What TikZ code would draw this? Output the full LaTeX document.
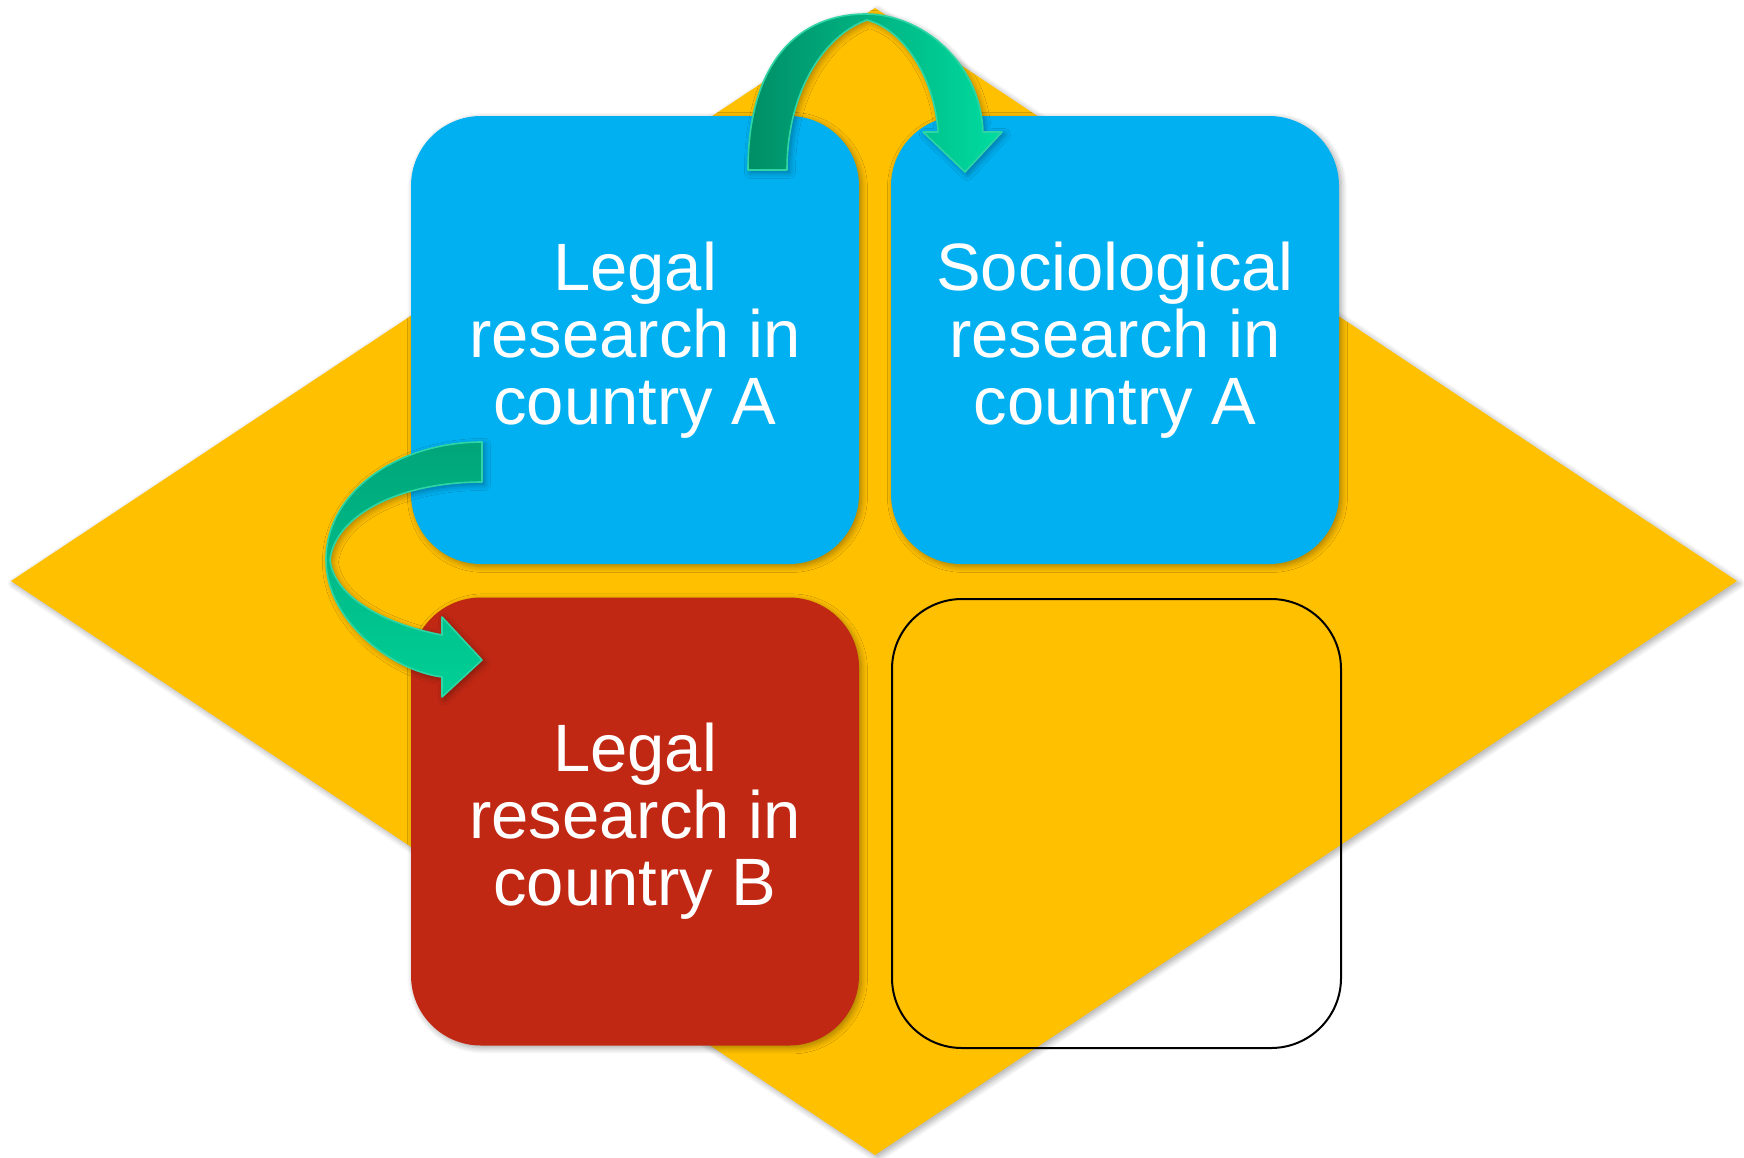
\documentclass[tikz,border=0pt]{standalone}
\usepackage{fontspec}
\setmainfont{Liberation Sans}
\usetikzlibrary{shadows.blur}
\definecolor{gold}{HTML}{FFC000}
\definecolor{sky}{HTML}{00B0F0}
\definecolor{brick}{HTML}{C02814}
\definecolor{teal1}{HTML}{008E66}
\definecolor{teal2}{HTML}{00DCA0}
\definecolor{teal3}{HTML}{00A579}
\definecolor{teal4}{HTML}{00D096}
\definecolor{tealedge}{HTML}{2ED6A6}
\tikzstyle{sq}=[shape=rectangle, rounded corners=35pt, minimum width=224pt, minimum height=224pt, inner sep=0pt, text=white, align=center, font=\fontsize{33.5}{33.5}\selectfont]
\tikzstyle{lift}=[blur shadow={shadow xshift=1.2pt, shadow yshift=-1.2pt, shadow blur radius=3pt, shadow blur steps=8, shadow opacity=35}]
\tikzstyle{arr}=[draw=tealedge, line width=0.8pt, line join=round, lift]

\begin{document}
\begin{tikzpicture}[x=0.5pt, y=-0.5pt]
        \useasboundingbox (0,0) rectangle (1744,1157);
        \fill[gold, lift] (11,581) -- (875,8) -- (1737,581) -- (875,1155) -- cycle;

        \node[sq, lift, fill=sky] (LA) at (635, 340) {Legal\\research in\\country A};
        \node[sq, lift, fill=sky] (SA) at (1115, 340) {Sociological\\research in\\country A};
        \node[sq, lift, fill=brick] (LB) at (635, 821.5) {Legal\\research in\\country B};
        \node[sq, draw=black, line width=1pt, minimum width=224.5pt, minimum height=224.5pt] (E) at (1116.5, 823.5) {};

        % arc over the top, LA -> SA
        \path[arr, left color=teal1, right color=teal2]
            (748,170) .. controls (748,60) and (800,14) .. (866,14)
            .. controls (920,14) and (980,60) .. (983,132)
            -- (1002,132) -- (965,172) -- (923,132) -- (938,132)
            .. controls (935,80) and (905,30) .. (867,20)
            .. controls (825,35) and (787,90) .. (787,170) -- cycle;
        % bend on the left, LA -> LB
        \path[arr, top color=teal3, bottom color=teal4]
            (482,442) .. controls (400,442) and (326,490) .. (326,560)
            .. controls (326,620) and (390,670) .. (442,677)
            -- (442,697) -- (482,660) -- (442,617) -- (442,635)
            .. controls (390,625) and (335,600) .. (330,560)
            .. controls (335,515) and (400,482) .. (482,482) -- cycle;
    \end{tikzpicture}
\end{document}
